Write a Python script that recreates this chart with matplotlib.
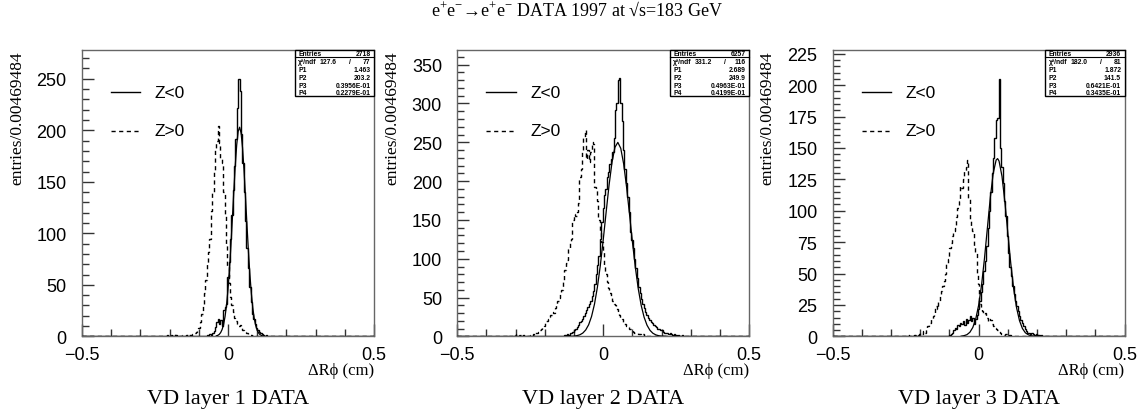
import numpy as np
import matplotlib.pyplot as plt
from matplotlib.ticker import FixedLocator, MultipleLocator
from matplotlib.patches import Rectangle

plt.rcParams['mathtext.fontset'] = 'custom'
plt.rcParams['mathtext.rm'] = 'Liberation Serif'
plt.rcParams['mathtext.it'] = 'Liberation Serif:italic'

SERIF = ['Liberation Serif', 'DejaVu Serif']
SANS = ['Liberation Sans', 'DejaVu Sans']

# histogram binning: 213 bins of 0.00469484 cm between -0.5 and 0.5
bin_width = 0.00469484
n_bins = 213
x_lo = -0.5

# ---- layer 1 ----
l1_neg_start = 91
l1_neg = [1, 0, 2, 1, 3, 5, 9, 14, 17, 12,
          16, 10, 26, 29, 31, 58, 72, 95, 118, 142,
          165, 192, 222, 250, 238, 196, 168, 140, 112, 86,
          66, 48, 33, 22, 17, 12, 8, 6, 4, 3,
          2, 1, 0, 1]
l1_pos_start = 62
l1_pos = [1, 0, 0, 1, 0, 2, 1, 0, 1, 0, 0, 1, 1, 0,
          1, 0, 1, 1, 2, 2, 3, 4, 5, 8,
          14, 22, 30, 42, 55, 70, 82, 95, 122, 140,
          160, 182, 190, 204, 188, 172, 168, 140, 118, 90,
          68, 52, 38, 30, 24, 18, 15, 12, 10, 11,
          8, 6, 5, 4, 3, 2, 1, 1, 0, 1]
l1_fit_x = [-0.04, -0.035, -0.03, -0.025, -0.02, -0.015, -0.01, -0.005, 0.0, 0.005,
            0.01, 0.015, 0.02, 0.025, 0.03, 0.035, 0.04, 0.045, 0.05, 0.055,
            0.06, 0.065, 0.07, 0.075, 0.08, 0.085, 0.09, 0.095, 0.1, 0.105,
            0.11, 0.115, 0.12]
l1_fit_y = [0.5, 1.0, 1.9, 3.7, 6.7, 11.5, 19.1, 30.0, 44.9, 64.2,
            87.4, 113.4, 140.2, 165.4, 185.8, 198.9, 203.0, 197.4, 183.0, 161.7,
            136.0, 109.0, 83.5, 60.8, 42.2, 28.0, 17.6, 10.6, 6.1, 3.3,
            1.7, 0.9, 0.4]
l1_stats = ['2718', '127.6', '77', '1.463', '203.2', '0.3956E-01', '0.2279E-01']

# ---- layer 2 ----
l2_neg_start = 75
l2_neg = [1, 0, 1, 2, 1, 3, 2, 4, 5, 6,
          8, 9, 12, 15, 18, 20, 23, 26, 30, 34,
          38, 42, 46, 52, 58, 68, 80, 92, 104, 125,
          148, 165, 182, 190, 205, 212, 222, 228, 238, 255,
          292, 300, 330, 333, 300, 278, 240, 215, 198, 180,
          160, 135, 124, 114, 100, 88, 75, 64, 56, 48,
          42, 36, 32, 28, 24, 21, 19, 17, 15, 14,
          12, 10, 9, 8, 8, 6, 5, 5, 4, 3,
          4, 3, 2, 3, 2, 1, 2, 1, 1, 2,
          1, 0, 1, 1, 0, 1]
l2_pos_start = 35
l2_pos = [1, 0, 2, 1, 0, 1, 2, 1, 3, 2, 1, 2, 3, 1, 2,
          1, 0, 1, 2, 1, 3, 2, 4, 5, 6,
          8, 9, 12, 14, 18, 20, 22, 25, 28, 32,
          30, 36, 40, 45, 50, 55, 60, 72, 85, 95,
          98, 112, 120, 125, 150, 158, 155, 160, 172, 205,
          215, 238, 255, 266, 228, 240, 225, 238, 250, 248,
          192, 188, 175, 150, 135, 122, 110, 92, 80, 70,
          62, 56, 50, 46, 42, 40, 35, 30, 27, 24,
          22, 19, 16, 14, 12, 10, 9, 8, 6, 5,
          5, 4, 3, 3, 2, 3, 1, 2, 1, 1, 0, 1]
l2_fit_x = [-0.12, -0.11, -0.10, -0.09, -0.08, -0.07, -0.06, -0.05, -0.04, -0.03,
            -0.02, -0.01, 0.0, 0.01, 0.02, 0.03, 0.04, 0.05, 0.06, 0.07,
            0.08, 0.09, 0.10, 0.11, 0.12, 0.13, 0.14, 0.15, 0.16, 0.17,
            0.18, 0.19, 0.20, 0.21, 0.22]
l2_fit_y = [0.1, 0.2, 0.4, 1.0, 2.1, 4.3, 8.3, 15.0, 25.7, 41.5,
            63.3, 91.3, 124.4, 160.2, 194.9, 224.1, 243.5, 249.9, 242.3, 222.1,
            192.3, 157.4, 121.6, 88.9, 61.3, 40.0, 24.7, 14.4, 7.9, 4.1,
            2.0, 0.9, 0.4, 0.2, 0.1]
l2_stats = ['6257', '331.2', '116', '2.689', '249.9', '0.4963E-01', '0.4199E-01']

# ---- layer 3 ----
l3_neg_start = 85
l3_neg = [1, 2, 3, 5, 7, 6, 9, 8, 11, 10,
          12, 9, 14, 11, 13, 16, 12, 15, 10, 14,
          17, 22, 28, 35, 42, 52, 60, 72, 86, 100,
          115, 130, 142, 158, 172, 174, 205, 150, 135, 122,
          108, 96, 80, 66, 55, 48, 40, 34, 28, 24,
          20, 16, 13, 11, 8, 6, 4, 3, 3, 2,
          3, 2, 1, 2, 1, 1, 0, 1]
l3_pos_start = 55
l3_pos = [1, 0, 1, 0, 1, 1, 2, 1, 2, 3,
          2, 4, 3, 6, 8, 10, 11, 14, 16, 19,
          24, 22, 28, 32, 36, 40, 44, 50, 58, 62,
          70, 74, 80, 84, 86, 95, 102, 108, 120, 118,
          125, 132, 135, 140, 110, 92, 88, 84, 72, 66,
          50, 42, 26, 22, 20, 18, 19, 15, 12, 14,
          13, 10, 8, 7, 6, 5, 4, 3, 2, 2,
          1, 2, 1, 0, 1]
l3_fit_x = [-0.06, -0.05, -0.04, -0.03, -0.02, -0.01, 0.0, 0.01, 0.02, 0.03,
            0.04, 0.05, 0.06, 0.065, 0.07, 0.08, 0.09, 0.10, 0.11, 0.12,
            0.13, 0.14, 0.15, 0.16, 0.17, 0.18, 0.19]
l3_fit_y = [0.2, 0.6, 1.4, 3.3, 7.1, 13.8, 24.8, 40.9, 62.0, 86.3,
            110.5, 130.0, 140.4, 141.5, 139.5, 127.4, 106.8, 82.3, 58.3, 37.9,
            22.7, 12.5, 6.3, 2.9, 1.3, 0.5, 0.2]
l3_stats = ['2936', '182.0', '81', '1.872', '141.5', '0.6421E-01', '0.3435E-01']

layers = ['1', '2', '3']
y_max = [278, 369, 228]
y_major = [50, 50, 25]
y_minor = [10, 10, 5]

edges = x_lo + bin_width * np.arange(n_bins + 1)


def full_hist(start, counts):
    h = np.zeros(n_bins)
    h[start:start + len(counts)] = counts
    return h


def stats_box(ax, st):
    x0, y0 = 0.728, 0.838
    ax.add_patch(Rectangle((x0, y0), 1.0 - x0, 1.0 - y0, transform=ax.transAxes,
                           facecolor='white', edgecolor='black', lw=1.0,
                           zorder=5, clip_on=False))
    ax.plot([x0, 1.0], [0.974, 0.974], color='black', lw=0.8,
            transform=ax.transAxes, zorder=6, clip_on=False)
    kw = dict(transform=ax.transAxes, fontsize=4.9, fontweight='bold',
              family=SANS, va='center', zorder=7)
    ax.text(x0 + 0.012, 0.987, 'Entries', ha='left', **kw)
    ax.text(0.988, 0.987, st[0], ha='right', **kw)
    rows = [0.958, 0.931, 0.904, 0.877, 0.852]
    ax.text(x0 + 0.012, rows[0], 'χ²/ndf', ha='left', **kw)
    ax.text(0.873, rows[0], st[1], ha='right', **kw)
    ax.text(0.918, rows[0], '/', ha='center', **kw)
    ax.text(0.988, rows[0], st[2], ha='right', **kw)
    for i, name in enumerate(['P1', 'P2', 'P3', 'P4']):
        ax.text(x0 + 0.012, rows[i + 1], name, ha='left', **kw)
        ax.text(0.988, rows[i + 1], st[3 + i], ha='right', **kw)


def draw_layer(ax, i, neg_start, neg, pos_start, pos, fit_x, fit_y, st):
    ax.stairs(full_hist(neg_start, neg), edges, color='black', lw=1.0, zorder=3)
    ax.stairs(full_hist(pos_start, pos), edges, color='black', lw=1.0,
              linestyle=(0, (3, 2.5)), zorder=3)
    ax.plot(fit_x, fit_y, color='black', lw=0.9, zorder=4)

    ax.set_xlim(-0.5, 0.5)
    ax.set_ylim(0, y_max[i])
    ax.xaxis.set_major_locator(FixedLocator([-0.5, 0.0, 0.5]))
    ax.set_xticklabels(['\u22120.5', '0', '0.5'])
    ax.xaxis.set_minor_locator(MultipleLocator(0.1))
    ax.yaxis.set_major_locator(MultipleLocator(y_major[i]))
    ax.yaxis.set_minor_locator(MultipleLocator(y_minor[i]))
    ax.tick_params(which='both', direction='in', top=False, right=False,
                   color='#333333', width=1.0)
    ax.tick_params(which='major', length=8.5, labelsize=13)
    ax.tick_params(which='minor', length=5)
    ax.tick_params(axis='x', pad=7)
    ax.tick_params(axis='y', pad=11)
    for lab in ax.get_xticklabels() + ax.get_yticklabels():
        lab.set_family(SANS)
    for sp in ax.spines.values():
        sp.set_color('#666666')
        sp.set_linewidth(1.0)

    ax.set_ylabel('entries/0.00469484', family=SERIF, fontsize=12.5, loc='top')
    ax.yaxis.set_label_coords(-0.195, 1.0)
    ax.set_xlabel('ΔRϕ (cm)', family=SERIF, fontsize=12, loc='right')
    ax.xaxis.set_label_coords(1.0, -0.09)
    ax.text(0.5, -0.215, 'VD layer %s DATA' % layers[i], transform=ax.transAxes,
            ha='center', va='center', family=SERIF, fontsize=16)

    # legend
    ax.plot([0.10, 0.20], [0.852, 0.852], color='black', lw=1.0,
            transform=ax.transAxes)
    ax.plot([0.10, 0.20], [0.718, 0.718], color='black', lw=1.0,
            linestyle=(0, (3, 2.5)), transform=ax.transAxes)
    ax.text(0.25, 0.852, 'Z<0', transform=ax.transAxes, va='center',
            family=SANS, fontsize=12.5)
    ax.text(0.25, 0.718, 'Z>0', transform=ax.transAxes, va='center',
            family=SANS, fontsize=12.5)

    stats_box(ax, st)


fig = plt.figure(figsize=(11.4, 4.14), dpi=100)
lefts = [0.0719, 0.4011, 0.7304]
axes = [fig.add_axes([l, 0.185, 0.2561, 0.692]) for l in lefts]

draw_layer(axes[0], 0, l1_neg_start, l1_neg, l1_pos_start, l1_pos, l1_fit_x, l1_fit_y, l1_stats)
draw_layer(axes[1], 1, l2_neg_start, l2_neg, l2_pos_start, l2_pos, l2_fit_x, l2_fit_y, l2_stats)
draw_layer(axes[2], 2, l3_neg_start, l3_neg, l3_pos_start, l3_pos, l3_fit_x, l3_fit_y, l3_stats)

fig.text(0.506, 0.975, 'e$^{+}$e$^{-}$→e$^{+}$e$^{-}$ DATA 1997 at √s=183 GeV',
         ha='center', va='center', family=SERIF, fontsize=13)

fig.savefig('out.png', dpi=100)
